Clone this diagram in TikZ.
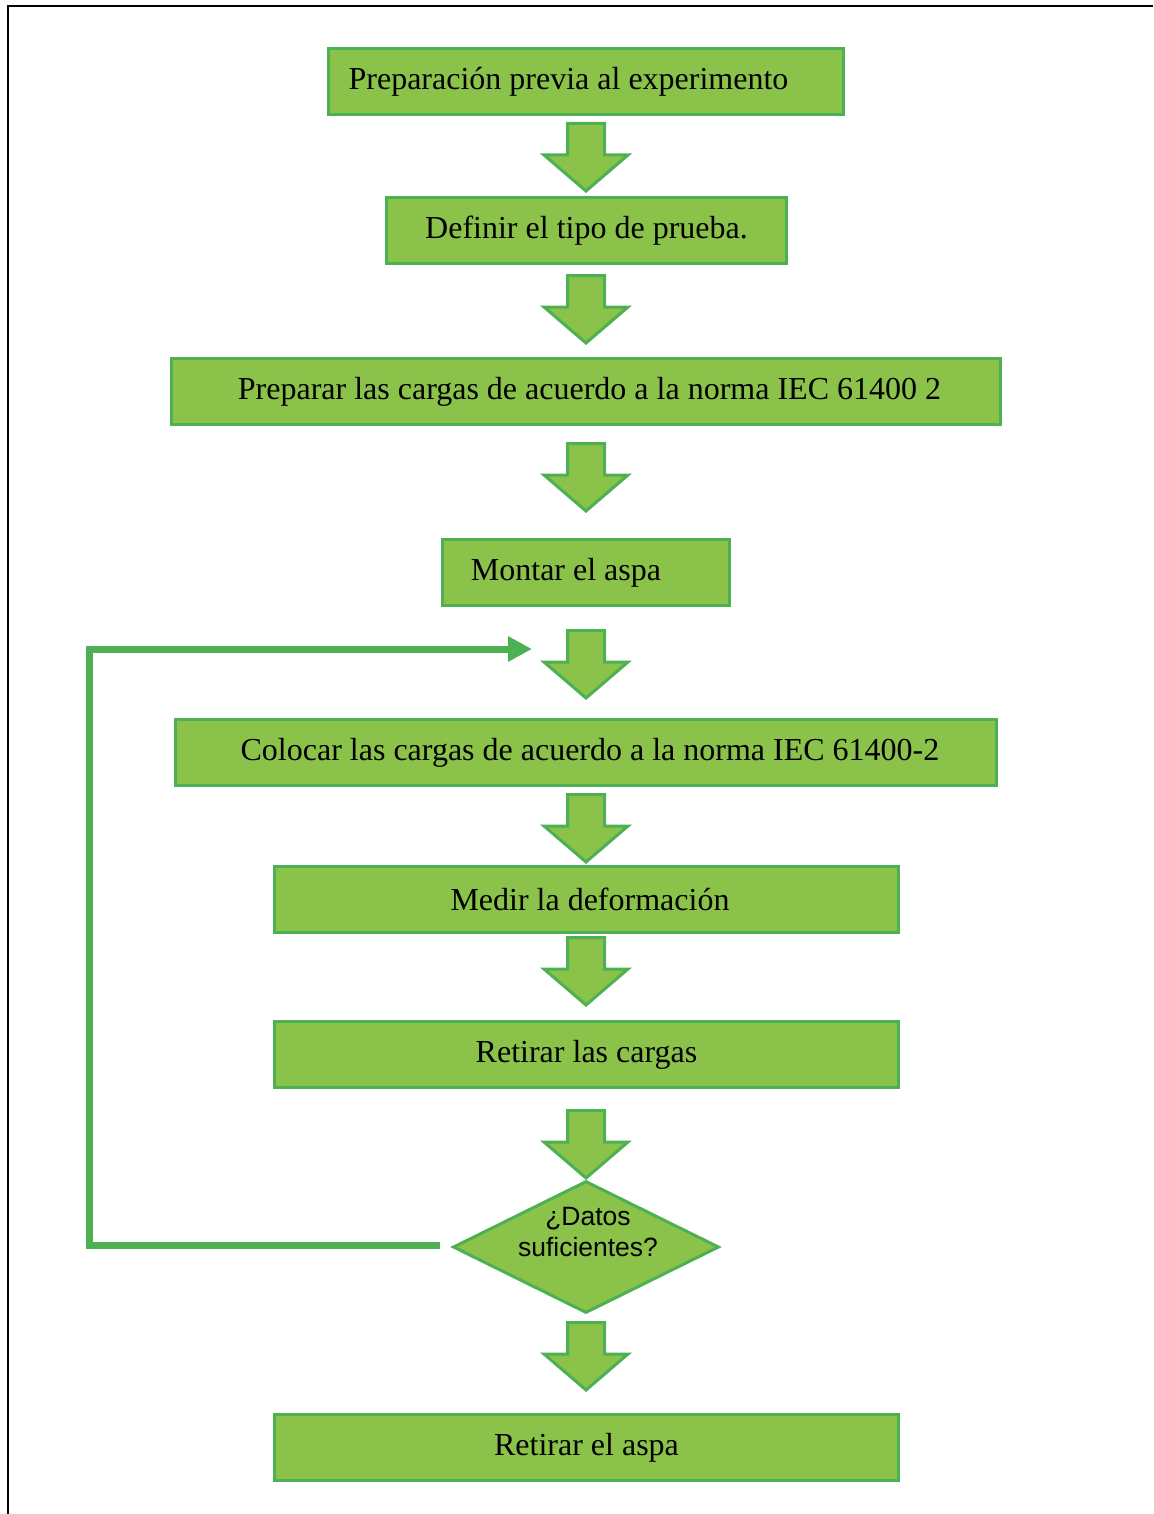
\documentclass[tikz,border=0pt]{standalone}
\usepackage{fontspec}
\setmainfont{Liberation Serif}
\newfontfamily\diafont{Liberation Sans}
\usetikzlibrary{shapes.geometric,arrows.meta}
\definecolor{leaf}{HTML}{8BC34A}
\definecolor{edge}{HTML}{4DB052}
\tikzset{
  x=1pt, y=1pt,
  box/.style={draw=edge, fill=leaf, line width=3pt, minimum height=66pt,
    inner sep=0pt, font=\fontsize{32}{36}\selectfont},
  boxtext/.style={font=\fontsize{32}{36}\selectfont, inner sep=0pt},
  decision/.style={diamond, draw=edge, fill=leaf, line width=3pt, aspect=2,
    inner sep=0pt, minimum width=266pt, minimum height=132pt},
  flowarrow/.style={draw=edge, fill=leaf, line width=3pt, line join=miter},
  loopline/.style={draw=edge, line width=7pt, line join=miter,
    -{Triangle[length=24pt,width=24pt]}},
  downarrow/.pic={
    \path[flowarrow] (-18.5,-1.5) -- (18.5,-1.5) -- (18.5,-33) -- (42,-33)
      -- (0,-69) -- (-42,-33) -- (-18.5,-33) -- cycle;
  }
}
\begin{document}
\begin{tikzpicture}
\useasboundingbox (0,0) rectangle (1153,-1514);
% frame (top and left edges)
\draw[line width=2.5pt] (8,-1514) -- (8,-6) -- (1153,-6);

% process steps
\node[box, minimum width=515pt,
  label={[boxtext,xshift=-17.5pt]center:Preparación previa al experimento}]
  (b1) at (586,-81.5) {};
\node[box, minimum width=400pt] (b2) at (586.5,-230.5) {Definir el tipo de prueba.};
\node[box, minimum width=829pt] (b3) at (586,-391.5)
  {\hspace*{7pt}Preparar las cargas de acuerdo a la norma IEC 61400 2};
\node[box, minimum width=287pt,
  label={[boxtext,xshift=-20pt]center:Montar el aspa}]
  (b4) at (586,-572.5) {};
\node[box, minimum width=821pt] (b5) at (586,-752.5)
  {\hspace*{8pt}Colocar las cargas de acuerdo a la norma IEC 61400-2};
\node[box, minimum width=624pt] (b6) at (586.5,-899.5) {\hspace*{7pt}Medir la deformación};
\node[box, minimum width=624pt] (b7) at (586.5,-1054.5) {Retirar las cargas};
\node[decision] (dia) at (586,-1247) {};
\node[font=\diafont\fontsize{26.5}{31}\selectfont, align=center, inner sep=0pt]
  (dtext) at (588,-1232) {¿Datos\\suficientes?};
\node[box, minimum width=624pt] (b8) at (586.5,-1447.5) {Retirar el aspa};

% block arrows between steps
\pic at (586,-122) {downarrow};
\pic at (586,-274) {downarrow};
\pic at (586,-442) {downarrow};
\coordinate (reentry) at (532,-649);
\pic at (586,-629) {downarrow};
\pic at (586,-793) {downarrow};
\pic at (586,-936) {downarrow};
\pic at (586,-1109) {downarrow};
\pic at (586,-1321) {downarrow};

% repeat loop when data are not sufficient
\draw[loopline] ([xshift=-12pt,yshift=2pt]dia.west) -| (89.5,-649) -- (reentry);
\end{tikzpicture}
\end{document}
